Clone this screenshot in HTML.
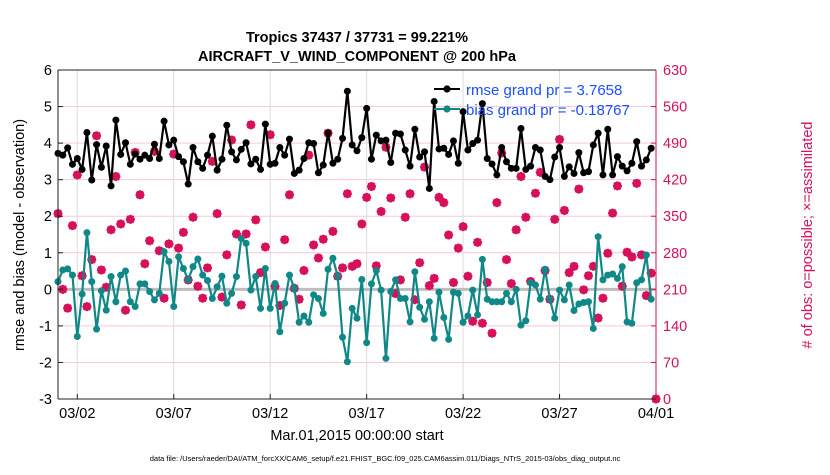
<!DOCTYPE html>
<html><head><meta charset="utf-8"><style>
body{margin:0;background:#fff;width:830px;height:470px;overflow:hidden}
svg text{font-family:"Liberation Sans",sans-serif}
</style></head><body>
<svg id="chart" width="830" height="470" viewBox="0 0 830 470" xmlns="http://www.w3.org/2000/svg">
<g id="grid"></g>
<g id="series"></g>
<g id="axes"></g>
<text x="357" y="42" text-anchor="middle" font-size="14.5" font-weight="bold">Tropics 37437 / 37731 = 99.221%</text>
<text x="357" y="61" text-anchor="middle" font-size="14.5" font-weight="bold">AIRCRAFT_V_WIND_COMPONENT @ 200 hPa</text>
<text transform="translate(24,235) rotate(-90)" text-anchor="middle" font-size="14.5">rmse and bias (model - observation)</text>
<text transform="translate(812,235) rotate(-90)" text-anchor="middle" font-size="14.5" fill="#d6105a"># of obs: o=possible; ×=assimilated</text>
<text x="357" y="440" text-anchor="middle" font-size="14.5">Mar.01,2015 00:00:00 start</text>
<text x="385" y="461" text-anchor="middle" font-size="7.5">data file: /Users/raeder/DAI/ATM_forcXX/CAM6_setup/f.e21.FHIST_BGC.f09_025.CAM6assim.011/Diags_NTrS_2015-03/obs_diag_output.nc</text>
<g>
<line x1="434" y1="89" x2="460" y2="89" stroke="#000" stroke-width="2"/>
<circle cx="447" cy="89" r="3.6" fill="#000"/>
<text x="466" y="95" font-size="15" fill="#1a4fff">rmse grand pr = 3.7658</text>
<line x1="434" y1="109" x2="460" y2="109" stroke="#108888" stroke-width="2"/>
<circle cx="447" cy="109" r="3.6" fill="#108888"/>
<text x="466" y="115" font-size="15" fill="#1a4fff">bias grand pr = -0.18767</text>
</g>
</svg>
<script>
const rmse=[3.72,3.67,3.87,3.42,3.58,3.28,4.29,2.99,3.96,3.34,3.92,2.83,4.63,3.69,4.01,3.42,3.70,3.56,3.67,3.58,3.97,3.58,4.60,3.95,4.08,3.63,3.49,2.88,3.88,3.49,3.31,3.67,4.19,3.26,3.56,4.49,3.76,3.54,3.83,4.01,3.43,3.56,3.28,4.52,3.42,3.45,3.88,3.67,4.11,3.17,3.26,3.58,4.01,3.99,3.19,3.40,4.28,3.45,3.56,4.13,5.42,3.95,3.79,4.15,4.95,3.56,4.22,4.06,4.08,3.47,4.27,4.25,3.81,3.37,4.38,3.62,3.76,2.76,5.14,3.84,3.86,3.69,4.06,3.45,4.86,3.81,3.99,4.08,5.08,3.58,3.43,3.13,3.88,3.49,3.31,3.31,4.40,3.28,3.37,3.88,3.81,3.09,3.00,3.62,3.88,3.09,3.35,3.17,3.74,3.19,3.22,3.95,4.27,3.13,4.38,3.13,3.63,3.37,3.24,3.45,4.04,3.37,3.54,3.86];
const bias=[0.21,0.53,0.56,0.39,-1.29,-0.13,1.55,0.21,-1.09,-0.04,-0.57,0.35,-0.34,0.39,0.50,-0.34,-0.47,0.15,0.15,-0.06,-0.29,-0.11,1.03,0.76,-0.47,0.89,0.57,0.26,0.62,0.83,0.39,0.24,-0.25,0.07,0.36,-0.38,-0.11,0.35,1.39,1.26,-0.02,0.35,-0.52,0.57,-0.52,0.16,-1.16,-0.38,0.39,0.03,-0.90,-0.73,-0.90,-0.15,-0.25,-0.66,0.55,0.85,0.36,-1.31,-1.98,-0.52,-0.79,0.27,-1.46,0.15,0.51,-0.02,-1.89,-0.06,0.26,-0.25,-0.25,-0.89,0.48,-0.49,-0.82,-0.34,-1.34,-0.08,-0.77,-1.37,-0.08,-0.11,-0.90,-0.73,-0.02,-0.70,0.82,-0.27,-0.34,-0.34,-0.34,-0.11,-0.34,0.00,-0.98,-0.86,0.18,0.12,-0.27,0.55,-0.27,-0.79,-0.02,-0.29,0.12,-0.58,-0.40,-0.36,-0.34,-1.07,1.44,0.26,0.39,0.42,0.30,0.62,-0.89,-0.93,0.18,0.26,0.94,-0.27];
const nobs=[355,210,174,332,429,236,177,267,504,247,214,324,426,335,170,344,472,391,259,303,474,284,193,297,469,289,319,228,348,216,193,251,455,355,195,276,496,316,180,316,525,343,242,291,506,216,179,305,391,212,191,246,467,295,270,306,509,321,235,251,393,254,259,335,386,407,255,359,482,385,202,228,348,393,190,261,444,217,231,386,376,314,223,289,330,235,149,300,145,223,126,376,471,267,221,324,426,348,225,394,434,246,191,344,497,361,242,254,402,209,236,254,155,193,279,356,408,216,281,272,413,276,198,241,0];
const yTicks=[6,5,4,3,2,1,0,-1,-2,-3];
const y2Ticks=[630,560,490,420,350,280,210,140,70,0];
const xTickLabels=["03/02","03/07","03/12","03/17","03/22","03/27","04/01"];
const xTickDays=[1,6,11,16,21,26,31];

const NS="http://www.w3.org/2000/svg";
const X0=58,X1=656,Y0=70,Y1=399,STEPS_PER_DAY=4,DAYS=31;
function xDay(d){return X0+(X1-X0)*d/DAYS;}
function xIdx(i){return xDay(i/STEPS_PER_DAY);}
function yL(v){return Y1-(v+3)*(Y1-Y0)/9;}
function yR(c){return Y1-c*(Y1-Y0)/630;}
function mk(tag,attrs,parent){const e=document.createElementNS(NS,tag);for(const k in attrs)e.setAttribute(k,attrs[k]);parent.appendChild(e);return e;}
const grid=document.getElementById('grid'),axes=document.getElementById('axes'),ser=document.getElementById('series');
const RED="#d6105a",TEAL="#108888";

yTicks.forEach(v=>{
  if(v!==6&&v!==-3){const g=mk('line',{x1:X0,x2:X1,y1:yL(v),y2:yL(v),stroke:'#f6c9da','stroke-width':1},grid);
  
  }
  const t=mk('text',{x:X0-6,y:yL(v)+5,'text-anchor':'end','font-size':14.5},axes);t.textContent=v;
  
  
  mk('line',{x1:X0,x2:X0+5,y1:yL(v),y2:yL(v),stroke:'#222'},axes);
});
y2Ticks.forEach(c=>{
  const t=mk('text',{x:X1+7,y:yR(c)+5,'font-size':14.5,fill:RED},axes);t.textContent=c;
  
  
  mk('line',{x1:X1-5,x2:X1,y1:yR(c),y2:yR(c),stroke:RED},axes);
});
xTickDays.forEach((d,k)=>{
  const gx=xDay(d);
  const g=mk('line',{x1:gx,x2:gx,y1:Y0,y2:Y1,stroke:'#dcdcdc'},grid);
  
  
  mk('line',{x1:gx,x2:gx,y1:Y1,y2:Y1-5,stroke:'#222'},axes);
  const t=mk('text',{x:gx,y:Y1+19,'text-anchor':'middle','font-size':14.5},axes);t.textContent=xTickLabels[k];
  
  
});
const zl=mk('line',{x1:X0,x2:X1,y1:yL(0),y2:yL(0),stroke:'#bdbdbd','stroke-width':3},grid);


mk('line',{x1:X0,x2:X1,y1:Y0,y2:Y0,stroke:'#222'},axes);
mk('line',{x1:X0,x2:X1,y1:Y1,y2:Y1,stroke:'#222'},axes);
mk('line',{x1:X0,x2:X0,y1:Y0,y2:Y1,stroke:'#222'},axes);
mk('line',{x1:X1,x2:X1,y1:Y0,y2:Y1,stroke:RED},axes);

// obs counts
nobs.forEach((c,i)=>{
  const g=mk('g',{},ser);
  
  
  const cx=xIdx(i),cy=yR(c);
  mk('circle',{cx:cx,cy:cy,r:3.5,fill:'none',stroke:RED,'stroke-width':1.5},g);
  mk('path',{d:`M${cx-4.5} ${cy}H${cx+4.5}M${cx} ${cy-4.5}V${cy+4.5}M${cx-3.3} ${cy-3.3}L${cx+3.3} ${cy+3.3}M${cx-3.3} ${cy+3.3}L${cx+3.3} ${cy-3.3}`,stroke:RED,'stroke-width':2.2},g);
});
function drawLine(arr,col,name){
  const p=mk('polyline',{points:arr.map((v,i)=>xIdx(i)+','+yL(v)).join(' '),fill:'none',stroke:col,'stroke-width':2.2},ser);
  
  
  arr.forEach((v,i)=>{
    const c=mk('circle',{cx:xIdx(i),cy:yL(v),r:3.5,fill:col},ser);
    
    
  });
}
drawLine(bias,TEAL,'bias');
drawLine(rmse,'#000','rmse');
</script>
</body></html>
